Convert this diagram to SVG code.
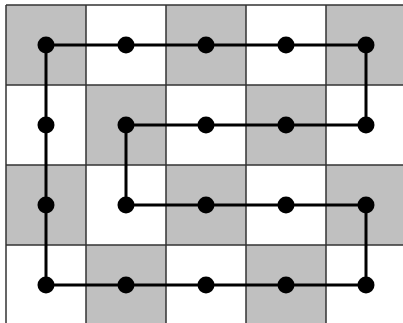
<svg xmlns="http://www.w3.org/2000/svg" width="403" height="323" viewBox="0 0 403 323">
<style>
.g{fill:#c0c0c0}
.w{fill:#ffffff}
.grid{stroke:#333;stroke-width:1.5;fill:none}
.path{stroke:#000;stroke-width:3;fill:none;stroke-linejoin:miter}
.dot{fill:#000}
</style>
<rect width="403" height="323" fill="#fff"/>
<g id="cells">
<rect class="g" x="6" y="5" width="80" height="80"/>
<rect class="g" x="166" y="5" width="80" height="80"/>
<rect class="g" x="326" y="5" width="80" height="80"/>
<rect class="g" x="86" y="85" width="80" height="80"/>
<rect class="g" x="246" y="85" width="80" height="80"/>
<rect class="g" x="6" y="165" width="80" height="80"/>
<rect class="g" x="166" y="165" width="80" height="80"/>
<rect class="g" x="326" y="165" width="80" height="80"/>
<rect class="g" x="86" y="245" width="80" height="80"/>
<rect class="g" x="246" y="245" width="80" height="80"/>
</g>
<g id="grid" class="grid">
<path d="M6,5V325M86,5V325M166,5V325M246,5V325M326,5V325M6,5H406M6,85H406M6,165H406M6,245H406"/>
</g>
<g id="connectors">
<path class="path" d="M46,45H366V125H126V205H366V285H46Z"/>
</g>
<g id="nodes">
<g id="n00"><circle class="dot" cx="46" cy="45" r="8.5"/></g>
<g id="n01"><circle class="dot" cx="126" cy="45" r="8.5"/></g>
<g id="n02"><circle class="dot" cx="206" cy="45" r="8.5"/></g>
<g id="n03"><circle class="dot" cx="286" cy="45" r="8.5"/></g>
<g id="n04"><circle class="dot" cx="366" cy="45" r="8.5"/></g>
<g id="n10"><circle class="dot" cx="46" cy="125" r="8.5"/></g>
<g id="n11"><circle class="dot" cx="126" cy="125" r="8.5"/></g>
<g id="n12"><circle class="dot" cx="206" cy="125" r="8.5"/></g>
<g id="n13"><circle class="dot" cx="286" cy="125" r="8.5"/></g>
<g id="n14"><circle class="dot" cx="366" cy="125" r="8.5"/></g>
<g id="n20"><circle class="dot" cx="46" cy="205" r="8.5"/></g>
<g id="n21"><circle class="dot" cx="126" cy="205" r="8.5"/></g>
<g id="n22"><circle class="dot" cx="206" cy="205" r="8.5"/></g>
<g id="n23"><circle class="dot" cx="286" cy="205" r="8.5"/></g>
<g id="n24"><circle class="dot" cx="366" cy="205" r="8.5"/></g>
<g id="n30"><circle class="dot" cx="46" cy="285" r="8.5"/></g>
<g id="n31"><circle class="dot" cx="126" cy="285" r="8.5"/></g>
<g id="n32"><circle class="dot" cx="206" cy="285" r="8.5"/></g>
<g id="n33"><circle class="dot" cx="286" cy="285" r="8.5"/></g>
<g id="n34"><circle class="dot" cx="366" cy="285" r="8.5"/></g>
</g>
</svg>
